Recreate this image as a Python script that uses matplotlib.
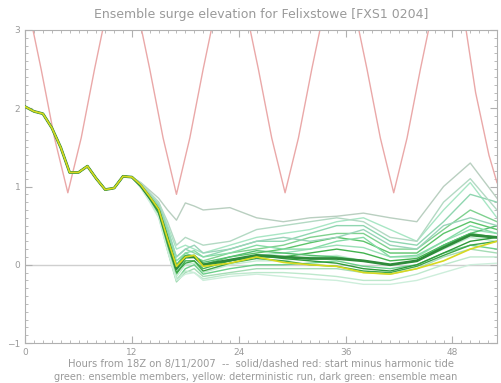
import matplotlib
matplotlib.use("Agg")
import matplotlib.pyplot as plt
from matplotlib.ticker import MultipleLocator

# ---- data ----
title = "Ensemble surge elevation for Felixstowe [FXS1 0204]"
xlabel1 = "Hours from 18Z on 8/11/2007  --  solid/dashed red: start minus harmonic tide"
xlabel2 = "green: ensemble members, yellow: deterministic run, dark green: ensemble mean"
x_ticks = [0, 12, 24, 36, 48]
y_ticks = [-1, 0, 1, 2, 3]

tide_hours = [0, 0.3, 1.8, 3.3, 4.8, 6.3, 7.8, 9.3, 10.9, 12.5, 14.0, 15.5, 17.0, 18.5,
              20.0, 21.5, 23.1, 24.7, 26.2, 27.7, 29.2, 30.7, 32.2, 33.7, 35.3, 36.9,
              38.4, 39.9, 41.4, 42.9, 44.4, 45.9, 47.5, 49.1, 50.6, 52.1, 53.0]
tide_vals = [3.54, 3.32, 2.50, 1.62, 0.92, 1.62, 2.50, 3.32, 3.86, 3.32, 2.50, 1.62,
             0.90, 1.62, 2.50, 3.32, 3.86, 3.32, 2.50, 1.62, 0.92, 1.62, 2.50, 3.32,
             3.86, 3.32, 2.50, 1.62, 0.92, 1.62, 2.50, 3.32, 3.86, 3.32, 2.20, 1.40, 1.05]

early_hours = [0, 1, 2, 3, 4, 5, 6, 7, 8, 9, 10, 11, 12]
early_vals = [2.02, 1.96, 1.93, 1.75, 1.50, 1.18, 1.18, 1.26, 1.10, 0.96, 0.98, 1.13, 1.12]

late_hours = [13, 14, 15, 16, 17, 18, 19, 20, 23, 26, 29, 32, 35, 38, 41, 44, 47, 50, 53]
members_late = [
    [1.05, 0.95, 0.85, 0.70, 0.57, 0.79, 0.75, 0.70, 0.73, 0.60, 0.55, 0.60, 0.62, 0.66, 0.60, 0.55, 1.00, 1.30, 0.85],
    [1.04, 0.92, 0.80, 0.50, 0.20, 0.25, 0.20, 0.15, 0.25, 0.35, 0.40, 0.45, 0.55, 0.60, 0.45, 0.30, 0.70, 1.05, 0.60],
    [1.03, 0.90, 0.76, 0.45, 0.10, 0.20, 0.15, 0.10, 0.20, 0.30, 0.30, 0.40, 0.50, 0.50, 0.30, 0.25, 0.55, 0.90, 0.80],
    [1.02, 0.88, 0.73, 0.38, 0.00, 0.15, 0.10, 0.05, 0.15, 0.20, 0.25, 0.35, 0.40, 0.40, 0.20, 0.20, 0.45, 0.70, 0.55],
    [1.02, 0.87, 0.72, 0.35, -0.05, 0.10, 0.12, 0.00, 0.10, 0.15, 0.20, 0.28, 0.35, 0.30, 0.15, 0.15, 0.40, 0.55, 0.45],
    [1.01, 0.86, 0.70, 0.30, -0.10, 0.08, 0.10, -0.02, 0.05, 0.12, 0.15, 0.20, 0.25, 0.22, 0.10, 0.10, 0.30, 0.45, 0.40],
    [1.01, 0.85, 0.68, 0.28, -0.12, 0.05, 0.05, -0.05, 0.05, 0.10, 0.10, 0.15, 0.20, 0.15, 0.05, 0.08, 0.25, 0.40, 0.35],
    [1.00, 0.84, 0.66, 0.25, -0.15, 0.00, 0.02, -0.10, 0.00, 0.05, 0.05, 0.10, 0.12, 0.05, 0.00, 0.05, 0.20, 0.35, 0.30],
    [1.00, 0.83, 0.64, 0.20, -0.20, -0.05, 0.00, -0.12, -0.05, 0.00, 0.00, 0.02, 0.05, -0.02, -0.05, 0.00, 0.15, 0.25, 0.20],
    [0.99, 0.82, 0.62, 0.18, -0.22, -0.10, -0.05, -0.15, -0.10, -0.05, -0.05, -0.05, -0.05, -0.10, -0.12, -0.05, 0.10, 0.20, 0.15],
    [0.99, 0.82, 0.62, 0.20, -0.18, -0.08, -0.10, -0.18, -0.12, -0.10, -0.10, -0.12, -0.15, -0.20, -0.20, -0.12, 0.00, 0.10, 0.10],
    [0.98, 0.80, 0.60, 0.18, -0.20, -0.12, -0.10, -0.20, -0.15, -0.12, -0.15, -0.18, -0.20, -0.25, -0.25, -0.20, -0.10, 0.00, 0.02],
    [1.01, 0.86, 0.70, 0.33, -0.05, 0.10, 0.10, 0.00, 0.05, 0.12, 0.08, 0.05, 0.02, -0.05, -0.08, 0.00, 0.15, 0.30, 0.35],
    [1.02, 0.87, 0.72, 0.36, 0.00, 0.12, 0.12, 0.03, 0.10, 0.18, 0.15, 0.12, 0.10, 0.05, 0.00, 0.05, 0.25, 0.40, 0.50],
    [1.03, 0.89, 0.75, 0.42, 0.05, 0.15, 0.18, 0.10, 0.15, 0.25, 0.20, 0.20, 0.30, 0.35, 0.10, 0.12, 0.30, 0.50, 0.40],
    [1.03, 0.90, 0.77, 0.46, 0.10, 0.20, 0.25, 0.15, 0.20, 0.30, 0.35, 0.30, 0.35, 0.45, 0.25, 0.20, 0.50, 0.60, 0.50],
    [1.00, 0.84, 0.66, 0.26, -0.10, 0.02, 0.05, -0.08, 0.02, 0.08, 0.05, 0.00, -0.02, -0.08, -0.10, -0.02, 0.12, 0.25, 0.30],
    [1.04, 0.92, 0.80, 0.55, 0.25, 0.35, 0.30, 0.25, 0.30, 0.45, 0.50, 0.55, 0.60, 0.55, 0.35, 0.30, 0.80, 1.10, 0.70],
]
mean_late = [1.01, 0.86, 0.70, 0.33, -0.05, 0.10, 0.10, 0.00, 0.06, 0.12, 0.10, 0.08, 0.08, 0.05, 0.00, 0.05, 0.22, 0.38, 0.35]
determ_late = [1.02, 0.87, 0.71, 0.33, -0.02, 0.10, 0.12, -0.02, 0.02, 0.10, 0.03, 0.00, -0.02, -0.10, -0.12, -0.05, 0.05, 0.20, 0.30]

member_colors = ["#b9cfc0", "#a8e6c4", "#8fd6b0", "#7fd18f", "#5cc46a", "#9be0b8",
                 "#43b34f", "#c2ecd0", "#6ccf8a", "#a5dcb5", "#bde8cc", "#cdeedb",
                 "#2f9a3a", "#55c070", "#86dca6", "#9ad4b9", "#3da648", "#b3d9c3"]

# ---- figure ----
fig = plt.figure(figsize=(5.02, 3.83), dpi=100)
ax = fig.add_axes([0.050, 0.1044, 0.940, 0.8173])
grey = "#9a9a9a"

ax.axhline(0, color="#cfcfcf", lw=1.0, zorder=1)
ax.plot(tide_hours, tide_vals, color="#eaa8a8", lw=1.0, zorder=2)

hours_all = early_hours + late_hours
for vals, c in zip(members_late, member_colors):
    ax.plot(hours_all, early_vals + vals, color=c, lw=1.0, zorder=3)
ax.plot(hours_all, early_vals + mean_late, color="#2e8b3a", lw=2.0, zorder=4)
ax.plot(hours_all, early_vals + determ_late, color="#d8d820", lw=1.2, zorder=5)

ax.set_xlim(0, 53)
ax.set_ylim(-1, 3)
ax.set_xticks(x_ticks)
ax.set_yticks(y_ticks)
ax.xaxis.set_minor_locator(MultipleLocator(1))
ax.yaxis.set_minor_locator(MultipleLocator(0.1))
ax.tick_params(which="both", direction="in", top=True, right=True, colors="#b0b0b0",
               labelcolor=grey, labelsize=6.5)
ax.tick_params(which="major", length=5)
ax.tick_params(which="minor", length=2.5)
for s in ax.spines.values():
    s.set_color("#b0b0b0")
    s.set_linewidth(0.8)

fig.text(0.52, 0.962, title, ha="center", va="center", fontsize=9, color=grey)
fig.text(0.52, 0.050, xlabel1, ha="center", va="center", fontsize=7.2, color=grey)
fig.text(0.51, 0.016, xlabel2, ha="center", va="center", fontsize=7.0, color=grey)

fig.savefig("out.png", dpi=100)
